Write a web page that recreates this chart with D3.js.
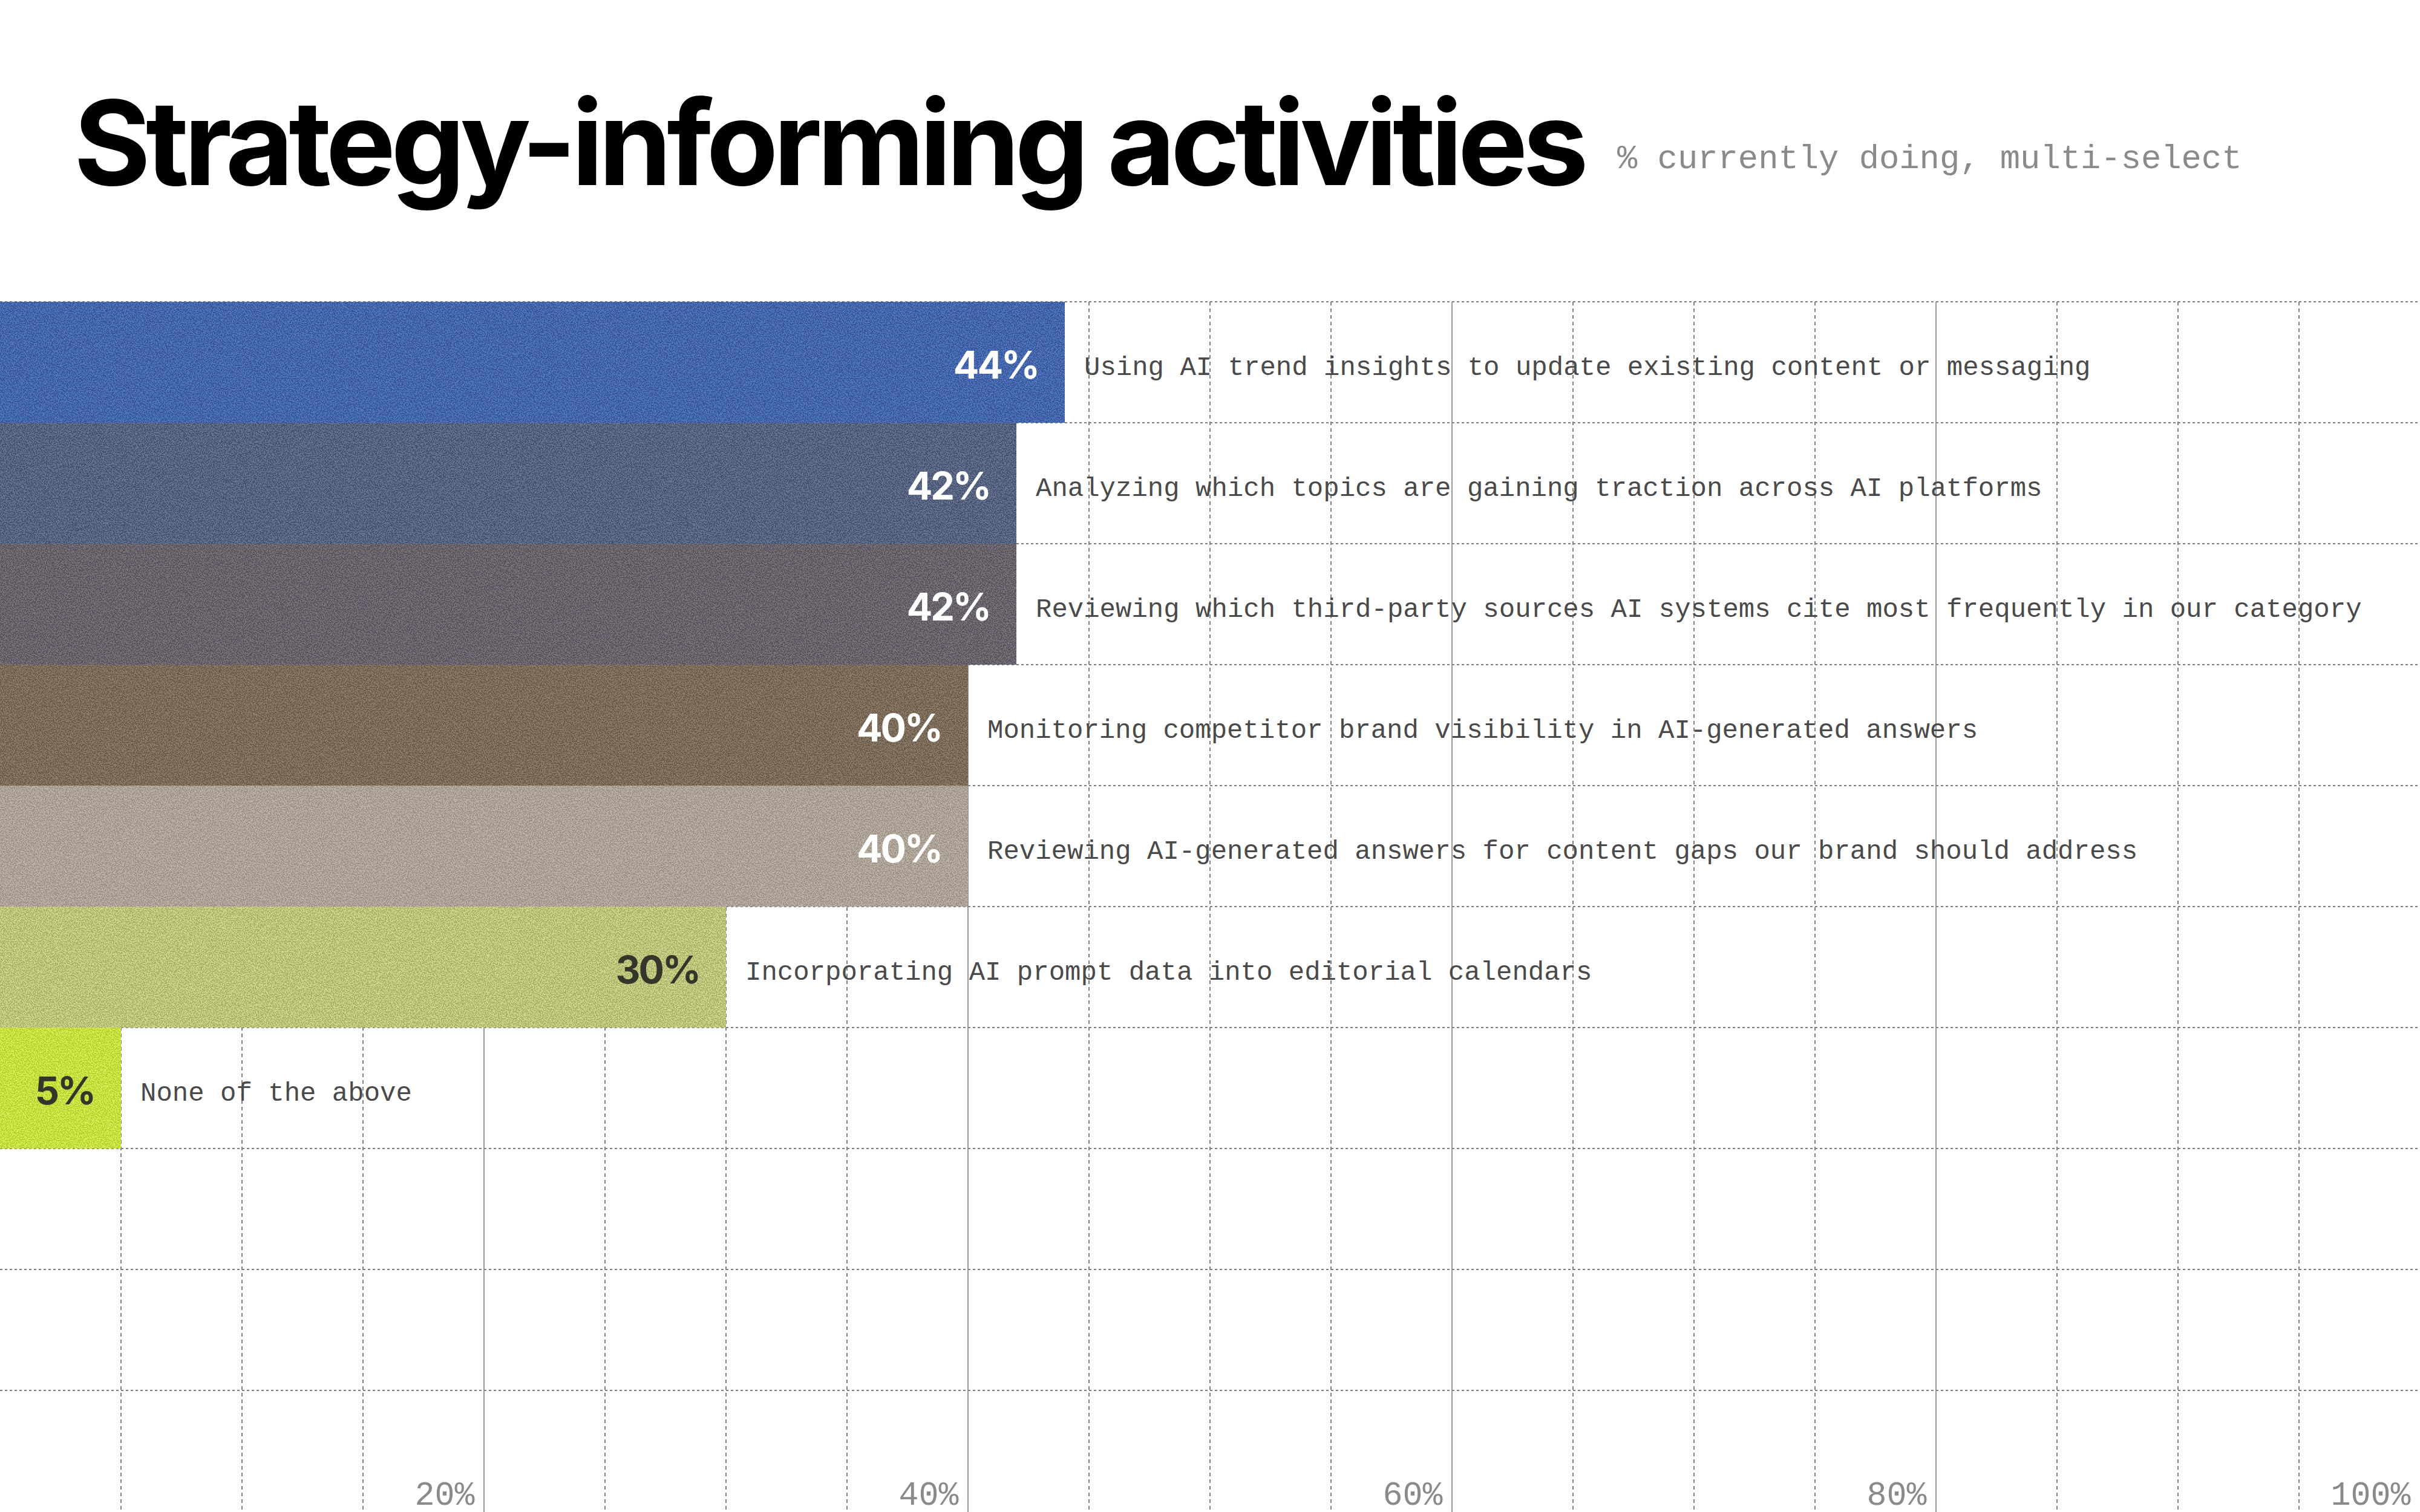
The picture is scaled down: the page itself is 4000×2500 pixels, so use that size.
<!DOCTYPE html>
<html>
<head>
<meta charset="utf-8">
<script src="https://cdn.jsdelivr.net/npm/d3@7"></script>
<style>
  html, body { margin: 0; padding: 0; background: #fff; }
  svg { display: block; }
</style>
</head>
<body>
<div id="chart"></div>
<script>
// data
var categories = [
  "Using AI trend insights to update existing content or messaging",
  "Analyzing which topics are gaining traction across AI platforms",
  "Reviewing which third-party sources AI systems cite most frequently in our category",
  "Monitoring competitor brand visibility in AI-generated answers",
  "Reviewing AI-generated answers for content gaps our brand should address",
  "Incorporating AI prompt data into editorial calendars",
  "None of the above"
];
var values = [44, 42, 42, 40, 40, 30, 5];
var tickValues = [20, 40, 60, 80, 100];

// two-tone grain: dark base + light speckle
var darkColors  = ["#35549a", "#45506e", "#56515a", "#6a5a49", "#9b9185", "#a9ae69", "#b5d02d"];
var lightColors = ["#5276bd", "#677491", "#78727a", "#8c7b68", "#bbb1a4", "#cfd58b", "#d6ee54"];
var valueColors = ["#fff", "#fff", "#fff", "#fff", "#fff", "#35362a", "#35362a"];

var width = 4000, height = 2500;
var gridTop = 499, rowH = 200, nRows = 10;

var svg = d3.select("#chart").append("svg")
    .attr("width", width)
    .attr("height", height);

var defs = svg.append("defs");
var f = defs.append("filter")
    .attr("id", "speckle")
    .attr("x", 0).attr("y", 0).attr("width", "100%").attr("height", "100%")
    .attr("color-interpolation-filters", "sRGB");
f.append("feTurbulence")
    .attr("type", "fractalNoise")
    .attr("baseFrequency", 0.55)
    .attr("numOctaves", 1)
    .attr("seed", 7)
    .attr("result", "n");
f.append("feColorMatrix")
    .attr("in", "n")
    .attr("type", "matrix")
    .attr("values", "0 0 0 0 0  0 0 0 0 0  0 0 0 0 0  1 0 0 0 0")
    .attr("result", "a");
f.append("feComponentTransfer")
    .attr("in", "a")
    .attr("result", "m")
  .append("feFuncA")
    .attr("type", "discrete")
    .attr("tableValues", "0 1");
f.append("feComposite")
    .attr("in", "SourceGraphic")
    .attr("in2", "m")
    .attr("operator", "in");

var x = d3.scaleLinear().domain([0, 100]).range([0, 4000]);
var rows = d3.scaleLinear().domain([0, nRows]).range([gridTop, gridTop + nRows * rowH]);
var y = d3.scaleBand().domain(categories).range([rows(0), rows(categories.length)]).padding(0);

var dark = d3.scaleOrdinal(categories, darkColors);
var light = d3.scaleOrdinal(categories, lightColors);
var valColor = d3.scaleOrdinal(categories, valueColors);

// title
svg.append("text")
    .attr("x", 122)
    .attr("y", 306)
    .attr("textLength", 2504)
    .attr("lengthAdjust", "spacing")
    .style("font-family", "Inter, 'Liberation Sans', sans-serif")
    .style("font-weight", 700)
    .style("font-size", "194px")
    .style("fill", "#000")
    .text("Strategy-informing activities");

svg.append("text")
    .attr("x", 2673)
    .attr("y", 278)
    .style("font-family", "'Liberation Mono', monospace")
    .style("font-size", "55.5px")
    .style("fill", "#8a8a8a")
    .text("% currently doing, multi-select");

// grid
var grid = svg.append("g").attr("class", "grid");

grid.selectAll("line.h")
    .data(d3.range(0, nRows))
  .enter().append("line")
    .attr("class", "h")
    .attr("x1", 0).attr("x2", width)
    .attr("y1", function(d) { return rows(d); })
    .attr("y2", function(d) { return rows(d); })
    .style("stroke", "#808080")
    .style("stroke-width", 2)
    .style("stroke-dasharray", "4,4");

grid.selectAll("line.v")
    .data(d3.range(5, 100, 5))
  .enter().append("line")
    .attr("class", "v")
    .attr("x1", function(d) { return x(d); })
    .attr("x2", function(d) { return x(d); })
    .attr("y1", rows(0))
    .attr("y2", height)
    .style("stroke", "#808080")
    .style("stroke-width", function(d) { return d % 20 === 0 ? 1.6 : 2; })
    .style("stroke-dasharray", function(d) { return d % 20 === 0 ? null : "6,5"; });

// bars
var bars = svg.append("g").attr("class", "bars")
  .selectAll("g")
    .data(categories)
  .enter().append("g");

bars.append("rect")
    .attr("x", x(0))
    .attr("y", function(d) { return y(d); })
    .attr("width", function(d, i) { return x(values[i]) - x(0); })
    .attr("height", y.bandwidth())
    .style("fill", function(d) { return dark(d); });

bars.append("rect")
    .attr("x", x(0))
    .attr("y", function(d) { return y(d); })
    .attr("width", function(d, i) { return x(values[i]) - x(0); })
    .attr("height", y.bandwidth())
    .attr("filter", "url(#speckle)")
    .style("fill", function(d) { return light(d); });

bars.append("text")
    .attr("x", function(d, i) { return x(values[i]) - 44; })
    .attr("y", function(d) { return y(d) + y.bandwidth() / 2 + 27; })
    .attr("text-anchor", "end")
    .style("font-family", "Inter, 'Liberation Sans', sans-serif")
    .style("font-weight", 700)
    .style("font-size", "63px")
    .style("letter-spacing", "-3px")
    .style("fill", function(d) { return valColor(d); })
    .text(function(d, i) { return values[i] + "%"; });

bars.append("text")
    .attr("x", function(d, i) { return x(values[i]) + 32; })
    .attr("y", function(d) { return y(d) + y.bandwidth() / 2 + 21; })
    .style("font-family", "'Liberation Mono', monospace")
    .style("font-size", "44px")
    .style("fill", "#4a4a4a")
    .text(function(d) { return d; });

// bottom axis labels
var axis = d3.axisBottom(x)
    .tickValues(tickValues)
    .tickSize(0)
    .tickFormat(function(d) { return d + "%"; });

var ax = svg.append("g")
    .attr("transform", "translate(0," + 2488 + ")")
    .call(axis);
ax.select(".domain").remove();
ax.selectAll("text")
    .attr("x", -16)
    .attr("y", 0)
    .attr("dy", 0)
    .attr("text-anchor", "end")
    .style("font-family", "'Liberation Mono', monospace")
    .style("font-size", "55px")
    .style("fill", "#8a8a8a");
</script>
</body>
</html>
